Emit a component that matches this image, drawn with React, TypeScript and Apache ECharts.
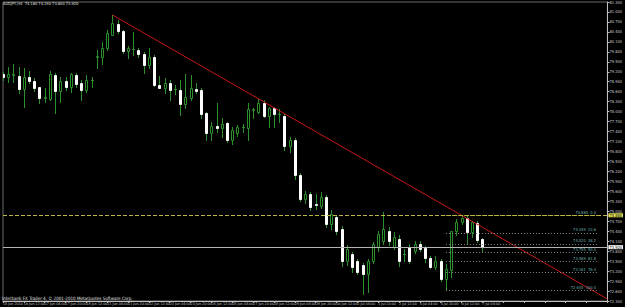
import React, { useEffect, useRef } from 'react';
import * as echarts from 'echarts';

// ---- data ----
const symbolTitle = 'AUDJPY,H4';
const copyright = 'Interbank FX Trader 4, \u00a9 2001-2010 MetaQuotes Software Corp.';

const ALL = [0, 4, 8, 12, 16, 20];
const FRI = [0, 4, 8, 12, 16];
const sessions: [string, number[]][] = [
  ['15 Jun', [20]], ['16 Jun', ALL], ['17 Jun', ALL], ['18 Jun', FRI],
  ['20 Jun', [20]], ['21 Jun', ALL], ['22 Jun', ALL], ['23 Jun', ALL], ['24 Jun', ALL], ['25 Jun', FRI],
  ['27 Jun', [20]], ['28 Jun', ALL], ['29 Jun', ALL], ['30 Jun', ALL], ['1 Jul', ALL], ['2 Jul', FRI],
  ['4 Jul', [20]], ['5 Jul', ALL], ['6 Jul', ALL], ['7 Jul', [0, 4]],
];
const firstLabel = '15 Jun 2010';
const futureSlots = 24;

const opens = [
  79.14, 79.05, 79.11, 79.08, 78.69, 79.05, 78.93, 78.75, 78.42, 78.39,
  79.11, 78.63, 78.93, 78.75, 79.11, 78.87, 78.66, 78.96, 79.65, 79.65,
  79.92, 80.31, 80.64, 80.43, 79.83, 79.89, 79.86, 79.74, 79.41, 79.65,
  78.81, 78.72, 78.87, 78.69, 78.66, 78.24, 78.42, 78.69, 78.66, 77.97,
  77.37, 77.58, 77.52, 77.67, 77.16, 77.37, 77.55, 77.52, 78.06, 78.00,
  78.27, 77.88, 78.12, 77.94, 77.88, 76.98, 77.16, 76.08, 75.36, 75.51,
  75.21, 75.15, 75.42, 74.61, 74.82, 74.46, 73.50, 73.71, 73.50, 73.38,
  73.11, 73.50, 73.92, 74.10, 74.40, 73.92, 74.16, 73.71, 73.92, 73.80,
  74.01, 73.89, 73.59, 73.32, 73.50, 72.96, 73.23, 74.40, 74.67, 74.79,
  74.37, 74.64, 74.16,
];
const closes = [
  79.05, 79.14, 79.12, 78.69, 79.05, 78.93, 78.72, 78.42, 78.43, 79.14,
  78.63, 78.93, 78.75, 79.14, 78.84, 78.66, 78.96, 78.95, 79.66, 79.92,
  80.37, 80.67, 80.43, 79.83, 79.92, 79.90, 79.74, 79.41, 79.65, 78.81,
  78.72, 78.87, 78.66, 78.68, 78.24, 78.45, 78.72, 78.63, 77.94, 77.37,
  77.58, 77.52, 77.64, 77.16, 77.46, 77.55, 77.54, 78.09, 78.07, 78.27,
  77.88, 78.12, 77.94, 77.93, 76.98, 77.16, 76.08, 75.36, 75.51, 75.12,
  75.20, 75.42, 74.61, 74.91, 74.40, 73.50, 73.86, 73.32, 73.17, 73.11,
  73.50, 74.01, 74.31, 74.46, 74.10, 74.22, 73.50, 73.70, 73.50, 74.01,
  73.86, 73.59, 73.32, 73.50, 72.96, 73.26, 74.40, 74.67, 74.79, 74.37,
  74.67, 74.13, 73.92,
];
const lows = [
  78.96, 78.90, 78.90, 78.57, 78.15, 78.87, 78.63, 78.27, 78.30, 78.36,
  77.97, 78.30, 78.66, 78.60, 78.75, 78.36, 78.60, 78.75, 79.32, 79.44,
  79.86, 80.31, 80.37, 79.77, 79.62, 79.71, 79.65, 79.17, 79.32, 78.78,
  78.72, 78.57, 78.36, 78.54, 77.91, 78.12, 78.36, 78.57, 77.82, 77.16,
  77.16, 77.40, 77.25, 77.10, 77.04, 77.28, 77.40, 77.16, 77.82, 77.97,
  77.85, 77.55, 77.55, 77.70, 76.86, 76.80, 75.96, 75.30, 75.24, 75.03,
  75.06, 75.09, 74.52, 74.46, 74.31, 73.35, 73.38, 73.17, 73.11, 72.51,
  72.57, 73.44, 73.80, 74.01, 73.98, 73.86, 73.35, 73.50, 73.44, 73.74,
  73.80, 73.47, 73.29, 73.26, 72.90, 72.63, 73.02, 74.28, 74.61, 74.01,
  74.22, 74.07, 73.80,
];
const highs = [
  79.20, 79.35, 79.44, 79.35, 79.32, 79.23, 79.02, 78.75, 78.72, 79.23,
  79.17, 79.05, 79.05, 79.17, 79.17, 78.96, 79.11, 79.05, 79.86, 80.10,
  80.46, 80.91, 80.76, 80.46, 79.98, 80.40, 79.92, 79.80, 79.92, 79.71,
  79.08, 79.02, 78.96, 78.81, 78.96, 79.14, 79.11, 78.87, 78.72, 78.00,
  77.70, 78.27, 77.82, 77.70, 77.55, 77.61, 77.64, 78.27, 78.12, 78.39,
  78.36, 78.15, 78.15, 78.09, 77.94, 77.25, 77.22, 76.14, 75.60, 75.57,
  75.51, 75.57, 75.48, 75.03, 74.88, 74.55, 73.98, 73.77, 73.56, 73.44,
  73.56, 74.07, 74.40, 74.97, 74.52, 74.37, 74.28, 73.86, 74.01, 74.10,
  74.10, 73.95, 73.65, 73.65, 73.56, 73.41, 74.40, 74.76, 74.88, 74.85,
  74.70, 74.70, 74.19,
];

const trendStart: [number, number] = [21, 80.91];
const trendEnd: [number, number] = [116, 72.36];
const levelLine = 74.88;
const bidPrice = 73.92;
const fibHigh = 74.88;
const fibLow = 72.63;
const fibLevels = [0, 23.6, 38.2, 50, 61.8, 76.4, 100];
const fibFrom = 84.5;
const fibTo = 114;

const yMin = 72.3;
const yMax = 81.3;
const yStep = 0.3;

// ---- styling ----
const FONT = '"Liberation Sans Narrow", "DejaVu Sans Condensed", "Liberation Sans", sans-serif';
const GREEN = '#2b8f2b';
const TXT = '#c8c8c8';

export default function App() {
  const ref = useRef<HTMLDivElement>(null);

  useEffect(() => {
    if (!ref.current) return;
    const chart = echarts.init(ref.current, undefined, { renderer: 'svg' });

    const times: string[] = [];
    sessions.forEach(([d, hs]) => hs.forEach((h) => times.push(`${d} ${String(h).padStart(2, '0')}:00`)));
    times[0] = firstLabel;
    const categories = times.concat(new Array(futureSlots).fill(''));

    const n = opens.length;
    const title = `${symbolTitle}  ${opens[n - 1].toFixed(3)} ${highs[n - 1].toFixed(3)} ${lows[n - 1].toFixed(3)} ${closes[n - 1].toFixed(3)}`;

    const candleData = opens.map((o, i) => [i, o, closes[i], lows[i], highs[i]]);

    const renderItem = (params: any, api: any) => {
      const i = api.value(0);
      const o = api.value(1);
      const c = api.value(2);
      const l = api.value(3);
      const h = api.value(4);
      const po = api.coord([i, o]);
      const pc = api.coord([i, c]);
      const pl = api.coord([i, l]);
      const ph = api.coord([i, h]);
      const cx = Math.round(po[0]) + 0.5;
      const top = Math.round(Math.min(po[1], pc[1])) + 0.5;
      const bot = Math.round(Math.max(po[1], pc[1])) + 0.5;
      const bull = c >= o;
      const children: any[] = [
        {
          type: 'line',
          shape: { x1: cx, y1: Math.round(ph[1]), x2: cx, y2: Math.round(pl[1]) + 1 },
          style: { stroke: GREEN, lineWidth: 1 },
        },
      ];
      if (bot - top < 1) {
        children.push({
          type: 'line',
          shape: { x1: cx - 1.5, y1: top, x2: cx + 1.5, y2: top },
          style: { stroke: GREEN, lineWidth: 1 },
        });
      } else {
        children.push({
          type: 'rect',
          shape: { x: cx - 1, y: top, width: 2, height: bot - top },
          style: bull
            ? { fill: '#000', stroke: GREEN, lineWidth: 1 }
            : { fill: '#fff', stroke: '#fff', lineWidth: 1 },
        });
      }
      return { type: 'group', children };
    };

    const fibMarks = fibLevels.map((lv) => {
      const p = fibHigh - ((fibHigh - fibLow) * lv) / 100;
      return [
        {
          coord: [fibFrom, p],
          lineStyle: lv === 0
            ? { color: '#b8b840', type: [1, 2], width: 1 }
            : { color: '#8a8a8a', type: [1, 2], width: 1 },
          label: {
            show: true,
            position: 'insideEndTop',
            distance: 1,
            formatter: `${p.toFixed(3)}  ${lv.toFixed(1)}`,
            color: '#6fb0b0',
            fontSize: 4,
            lineHeight: 4,
            fontFamily: FONT,
          },
        },
        { coord: [fibTo, p] },
      ];
    });

    const boxLabel = (value: number, bg: string) => ({
      show: true,
      position: 'end',
      distance: 1,
      formatter: value.toFixed(3),
      backgroundColor: bg,
      color: '#000',
      fontSize: 4,
      lineHeight: 4,
      padding: [0, 1],
      fontFamily: FONT,
    });

    const option: any = {
      animation: false,
      backgroundColor: '#000',
      grid: { left: 2, right: 13, top: 2, bottom: 6, show: true, borderColor: '#6a6a6a', borderWidth: 1 },
      xAxis: {
        type: 'category',
        data: categories,
        boundaryGap: false,
        axisLine: { lineStyle: { color: '#c0c0c0', width: 1 } },
        axisTick: { show: true, interval: 3, length: 2, lineStyle: { color: '#c0c0c0' } },
        axisLabel: {
          interval: 3,
          fontSize: 3.7,
          lineHeight: 4,
          color: TXT,
          align: 'left',
          margin: 1,
          fontFamily: FONT,
        },
        splitLine: { show: false },
      },
      yAxis: {
        type: 'value',
        position: 'right',
        min: yMin,
        max: yMax,
        interval: yStep,
        scale: true,
        axisLine: { show: true, lineStyle: { color: '#c0c0c0', width: 1 } },
        axisTick: { show: true, length: 2, lineStyle: { color: '#c0c0c0' } },
        axisLabel: {
          fontSize: 4,
          lineHeight: 4,
          color: TXT,
          margin: 2,
          fontFamily: FONT,
          formatter: (v: number) => v.toFixed(3),
        },
        splitLine: { show: false },
      },
      graphic: [
        { type: 'text', left: 3, top: 1, style: { text: title, fill: '#e0e0e0', font: `4px ${FONT}` } },
        { type: 'text', left: 2, top: 296, style: { text: copyright, fill: '#e0e0e0', font: `4.5px ${FONT}` } },
      ],
      series: [
        {
          type: 'custom',
          data: candleData,
          encode: { x: 0, y: [1, 2, 3, 4] },
          renderItem,
          clip: true,
          silent: true,
          z: 3,
        },
        {
          type: 'line',
          data: [trendStart, trendEnd],
          symbol: 'none',
          silent: true,
          lineStyle: { color: '#c81818', width: 1 },
          z: 4,
          markLine: {
            silent: true,
            symbol: ['none', 'none'],
            animation: false,
            data: [
              {
                yAxis: levelLine,
                lineStyle: { color: '#b8b840', type: [4, 2], width: 1 },
                label: boxLabel(levelLine, '#e6e65a'),
              },
              {
                yAxis: bidPrice,
                lineStyle: { color: '#b4b4b4', type: 'solid', width: 1 },
                label: boxLabel(bidPrice, '#ffffff'),
              },
              ...fibMarks,
            ],
          },
        },
      ],
    };

    chart.setOption(option);
    return () => chart.dispose();
  }, []);

  return (
    <div
      ref={ref}
      style={{ position: 'fixed', left: 0, top: 0, width: 625, height: 307, background: '#000' }}
    />
  );
}
